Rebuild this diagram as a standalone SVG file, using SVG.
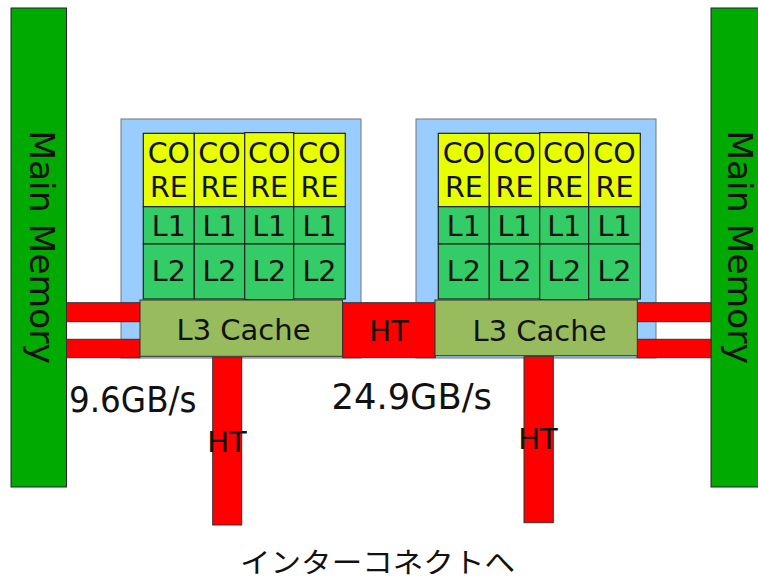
<svg xmlns="http://www.w3.org/2000/svg" width="758" height="580" viewBox="0 0 758 580">
  <style>
    .mem { fill: #00aa00; stroke: #222; stroke-width: 1; }
    .die { fill: #99ccff; stroke: #777; stroke-width: 1; }
    .core { fill: #e8ff00; stroke: #222; stroke-width: 1.2; }
    .cache { fill: #33cc66; stroke: #222; stroke-width: 1.2; }
    .l3 { fill: #98bb5e; stroke: #333; stroke-width: 1; }
    .link { fill: #ff0000; stroke: #333; stroke-width: 1; }
    text { font-family: "DejaVu Sans", "Liberation Sans", sans-serif; fill: #111; }
    .cell { font-size: 28.5px; text-anchor: middle; }
    .lbl { font-size: 29px; text-anchor: middle; }
    .memtxt { font-size: 34.5px; text-anchor: middle; }
    .bw { font-size: 36px; }
    .jp { font-family: "Noto Sans CJK JP", "DejaVu Sans", sans-serif; font-size: 28px; }
  </style>

  <defs>
    <!-- one processor die: 4 cores with private L1/L2, shared L3 -->
    <g id="cpu">
      <rect class="die" x="0" y="0" width="240" height="239"/>
      <g transform="translate(22.3,14.3)">
        <rect class="core" x="0" y="0" width="51" height="73.4"/>
        <rect class="core" x="51" y="0" width="50.4" height="73.4"/>
        <rect class="core" x="101.4" y="-0.7" width="49" height="74.1"/>
        <rect class="core" x="150.4" y="0" width="51.6" height="73.4"/>
        <rect class="cache" x="0" y="73.4" width="51" height="37.3"/>
        <rect class="cache" x="51" y="73.4" width="50.4" height="37.3"/>
        <rect class="cache" x="101.4" y="73.4" width="49" height="37.3"/>
        <rect class="cache" x="150.4" y="73.4" width="51.6" height="37.3"/>
        <rect class="cache" x="0" y="110.7" width="51" height="55"/>
        <rect class="cache" x="51" y="110.7" width="50.4" height="55"/>
        <rect class="cache" x="101.4" y="110.7" width="49" height="55.6"/>
        <rect class="cache" x="150.4" y="110.7" width="51.6" height="55"/>
        <text class="cell" x="25.5" y="29.4">CO</text>
        <text class="cell" x="76.2" y="29.4">CO</text>
        <text class="cell" x="125.9" y="29.4">CO</text>
        <text class="cell" x="176.2" y="29.4">CO</text>
        <text class="cell" x="25.5" y="64">RE</text>
        <text class="cell" x="76.2" y="64">RE</text>
        <text class="cell" x="125.9" y="64">RE</text>
        <text class="cell" x="176.2" y="64">RE</text>
        <text class="cell" x="25.5" y="102.7">L1</text>
        <text class="cell" x="76.2" y="102.7">L1</text>
        <text class="cell" x="125.9" y="102.7">L1</text>
        <text class="cell" x="176.2" y="102.7">L1</text>
        <text class="cell" x="25.5" y="147.4">L2</text>
        <text class="cell" x="76.2" y="147.4">L2</text>
        <text class="cell" x="125.9" y="147.4">L2</text>
        <text class="cell" x="176.2" y="147.4">L2</text>
      </g>
    </g>
  </defs>

  <!-- memory banks -->
  <g id="mem-left">
    <rect class="mem" x="11" y="8" width="55.5" height="479"/>
    <text class="memtxt" transform="translate(30,247) rotate(90)">Main Memory</text>
  </g>
  <g id="mem-right">
    <rect class="mem" x="711" y="8" width="55.5" height="479"/>
    <text class="memtxt" transform="translate(727.5,247) rotate(90)">Main Memory</text>
  </g>

  <!-- processors -->
  <g id="cpu-left">
    <use href="#cpu" x="121" y="119"/>
  </g>
  <g id="cpu-right">
    <use href="#cpu" x="416" y="119"/>
  </g>

  <!-- links: memory channels and HyperTransport -->
  <g id="connectors">
    <rect class="link" x="66.5" y="302.7" width="73.5" height="19"/>
    <rect class="link" x="66.5" y="339.3" width="73.5" height="18.4"/>
    <rect class="link" x="637" y="302.7" width="74" height="19"/>
    <rect class="link" x="637" y="339.3" width="74" height="18.4"/>
    <rect class="link" x="212.7" y="357.3" width="29" height="167.7"/>
    <rect class="link" x="524" y="356.3" width="29.3" height="166.4"/>
  </g>

  <g id="ht-mid">
    <rect class="link" x="342.7" y="302.7" width="92.6" height="55"/>
    <text class="lbl" x="389" y="340.7" font-size="28">HT</text>
  </g>

  <g id="l3-left">
    <rect class="l3" x="140" y="300" width="202.5" height="56.3"/>
    <text class="lbl" x="243.5" y="340.3">L3 Cache</text>
  </g>
  <g id="l3-right">
    <rect class="l3" x="435" y="300" width="202.3" height="55.7"/>
    <text class="lbl" x="539.5" y="340.7">L3 Cache</text>
  </g>

  <g id="ht-left-label">
    <text class="lbl" x="227" y="451.7">HT</text>
  </g>
  <g id="ht-right-label">
    <text class="lbl" x="538" y="449.3">HT</text>
  </g>

  <!-- bandwidth figures -->
  <text class="bw" x="69" y="411.7" textLength="127.5" lengthAdjust="spacingAndGlyphs">9.6GB/s</text>
  <text class="bw" x="331.5" y="409.3" textLength="160.5" lengthAdjust="spacingAndGlyphs">24.9GB/s</text>

  <text class="jp" x="240" y="573" textLength="275" lengthAdjust="spacingAndGlyphs">インターコネクトへ</text>
</svg>
